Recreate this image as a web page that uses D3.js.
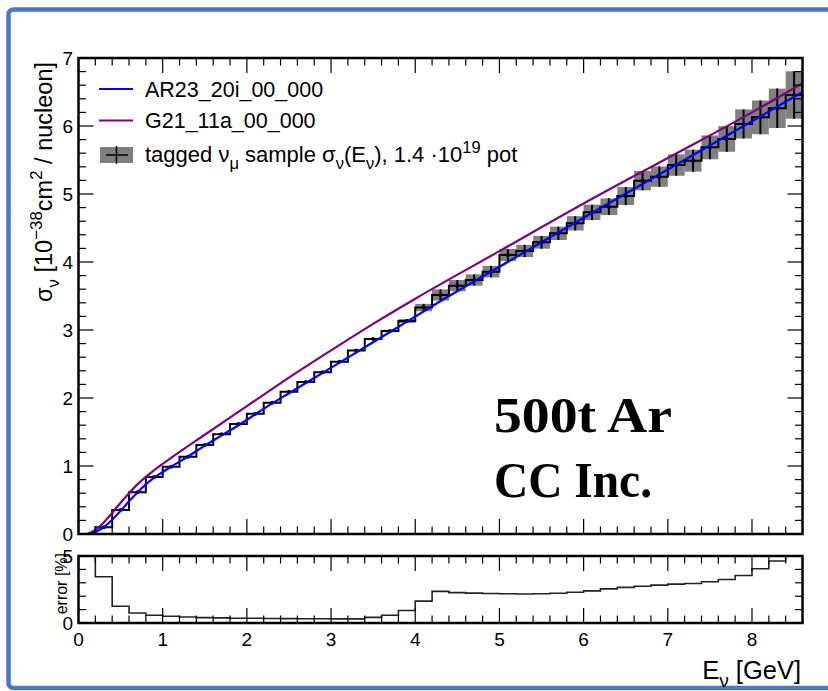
<!DOCTYPE html>
<html>
<head>
<meta charset="utf-8">
<script src="https://cdn.jsdelivr.net/npm/d3@7"></script>
<style>
  body { margin: 0; background: #fff; }
  svg { display: block; }
</style>
</head>
<body>
<svg id="chart" width="828" height="691"></svg>
<script>
// ---- data -------------------------------------------------------------
// lower edges of the 0.2 GeV energy bins
const binLow = [0.2, 0.4, 0.6, 0.8, 1.0, 1.2, 1.4, 1.6, 1.8, 2.0, 2.2, 2.4, 2.6, 2.8,
                3.0, 3.2, 3.4, 3.6, 3.8, 4.0, 4.2, 4.4, 4.6, 4.8, 5.0, 5.2, 5.4, 5.6,
                5.8, 6.0, 6.2, 6.4, 6.6, 6.8, 7.0, 7.2, 7.4, 7.6, 7.8, 8.0, 8.2, 8.4];
const binWidth = 0.2;

// unfolded cross section of the tagged numu sample [1e-38 cm^2 / nucleon]
const sigmaTagged = [0.10, 0.353, 0.613, 0.838, 0.99, 1.137, 1.309, 1.466, 1.618, 1.769,
                     1.93, 2.093, 2.235, 2.378, 2.534, 2.70, 2.868, 2.985, 3.132, 3.33,
                     3.515, 3.652, 3.735, 3.858, 4.103, 4.162, 4.29, 4.422, 4.569, 4.73,
                     4.813, 4.97, 5.196, 5.255, 5.426, 5.49, 5.686, 5.81, 6.03, 6.127,
                     6.26, 6.456];

// relative uncertainty per bin [%]
const errorPct = [3.45, 1.25, 0.75, 0.58, 0.50, 0.45, 0.40, 0.38, 0.36, 0.35,
                  0.34, 0.33, 0.32, 0.32, 0.31, 0.31, 0.42, 0.58, 0.93, 1.63,
                  2.36, 2.27, 2.23, 2.20, 2.18, 2.16, 2.18, 2.22, 2.30, 2.40,
                  2.55, 2.66, 2.74, 2.83, 2.90, 2.95, 3.08, 3.25, 3.55, 4.05,
                  4.63, 5.40];

// generator predictions
const ar23Energy = [0.13, 0.2, 0.3, 0.4, 0.5, 0.6, 0.7, 0.8, 0.9, 1.0, 1.1, 1.3, 1.5, 1.7,
                    1.9, 2.1, 2.3, 2.5, 2.7, 2.9, 3.1, 3.3, 3.7, 4.2, 5.0, 6.0, 7.0, 8.0, 8.6];
const ar23Sigma  = [0.0, 0.03, 0.10, 0.21, 0.34, 0.48, 0.61, 0.73, 0.83, 0.91, 0.99, 1.14, 1.30, 1.45,
                    1.60, 1.76, 1.92, 2.07, 2.22, 2.37, 2.52, 2.67, 2.97, 3.35, 3.93, 4.65, 5.36, 6.07, 6.50];

const g21Energy = [0.10, 0.2, 0.3, 0.4, 0.5, 0.6, 0.7, 0.8, 0.9, 1.0, 1.1, 1.5, 2.0, 2.5,
                   3.0, 3.5, 4.0, 5.0, 6.0, 7.0, 8.0, 8.6];
const g21Sigma  = [0.0, 0.06, 0.17, 0.31, 0.46, 0.60, 0.73, 0.84, 0.94, 1.03, 1.12, 1.46, 1.88, 2.30,
                   2.70, 3.09, 3.46, 4.16, 4.86, 5.53, 6.20, 6.63];

// axis tick labels
const xTickLabels   = [0, 1, 2, 3, 4, 5, 6, 7, 8];
const yTickLabels   = [0, 1, 2, 3, 4, 5, 6, 7];
const errTickLabels = [0, 5];

// legend entries
const legendNames = ["AR23_20i_00_000", "G21_11a_00_000"];
const legendColors = ["#0000ff", "#800080"];

// ---- layout -----------------------------------------------------------
const svg = d3.select("#chart");
const font = "'Liberation Sans', Arial, Helvetica, sans-serif";

const x = d3.scaleLinear().domain([0, 8.6]).range([78.5, 802.5]);
const y = d3.scaleLinear().domain([0, 7]).range([534, 58]);
const yErr = d3.scaleLinear().domain([0, 5]).range([623, 556]);

// outer blue frame
svg.append("rect")
  .attr("x", 8.5).attr("y", 9.5).attr("width", 860).attr("height", 678.5)
  .attr("rx", 5)
  .attr("fill", "none").attr("stroke", "#4a78c8").attr("stroke-width", 4.5);

const defs = svg.append("defs");
defs.append("clipPath").attr("id", "clipMain").append("rect")
  .attr("x", x(0)).attr("y", y(7)).attr("width", x(8.6) - x(0)).attr("height", y(0) - y(7));
defs.append("clipPath").attr("id", "clipErr").append("rect")
  .attr("x", x(0)).attr("y", yErr(5)).attr("width", x(8.6) - x(0)).attr("height", yErr(0) - yErr(5));

// ---- helpers ----------------------------------------------------------
function richText(sel, parts, baseSize, scriptScale) {
  const k = scriptScale || 0.72;
  let offset = 0;
  parts.forEach(p => {
    const ts = sel.append("tspan").text(p.t);
    let target = 0;
    if (p.s === "sub") { ts.attr("font-size", baseSize * k); target = baseSize * 0.3; }
    else if (p.s === "sup") { ts.attr("font-size", baseSize * k); target = -baseSize * 0.42; }
    else ts.attr("font-size", baseSize);
    ts.attr("dy", target - offset);
    offset = target;
  });
}

const isMajor = d => Math.abs(d - Math.round(d)) < 1e-6;

function xTicks(g, yScale, top, bottom) {
  const minor = d3.range(0, 8.61, 0.2);
  g.selectAll(null).data(minor).enter().append("line")
    .attr("x1", d => x(d)).attr("x2", d => x(d))
    .attr("y1", yScale(bottom)).attr("y2", d => yScale(bottom) - (isMajor(d) ? 15 : 7.5))
    .attr("stroke", "#000").attr("stroke-width", 1.2);
  g.selectAll(null).data(minor).enter().append("line")
    .attr("x1", d => x(d)).attr("x2", d => x(d))
    .attr("y1", yScale(top)).attr("y2", d => yScale(top) + (isMajor(d) ? 15 : 7.5))
    .attr("stroke", "#000").attr("stroke-width", 1.2);
}

function yTicks(g, yScale, values, majorTest) {
  g.selectAll(null).data(values).enter().append("line")
    .attr("x1", x(0)).attr("x2", d => x(0) + (majorTest(d) ? 15 : 7.5))
    .attr("y1", d => yScale(d)).attr("y2", d => yScale(d))
    .attr("stroke", "#000").attr("stroke-width", 1.2);
  g.selectAll(null).data(values).enter().append("line")
    .attr("x1", x(8.6)).attr("x2", d => x(8.6) - (majorTest(d) ? 15 : 7.5))
    .attr("y1", d => yScale(d)).attr("y2", d => yScale(d))
    .attr("stroke", "#000").attr("stroke-width", 1.2);
}

const bins = binLow.map((lo, i) => ({
  lo: lo, hi: lo + binWidth, mid: lo + binWidth / 2,
  v: sigmaTagged[i], err: errorPct[i], abs: sigmaTagged[i] * errorPct[i] / 100
}));

// ---- main panel -------------------------------------------------------
const main = svg.append("g").attr("clip-path", "url(#clipMain)");

// uncertainty boxes
main.selectAll("rect.band").data(bins).enter().append("rect")
  .attr("class", "band")
  .attr("x", d => x(d.lo)).attr("width", d => x(d.hi) - x(d.lo))
  .attr("y", d => y(d.v + d.abs)).attr("height", d => y(d.v - d.abs) - y(d.v + d.abs))
  .attr("fill", "#808080");

// histogram outline
const stepPts = [[bins[0].lo, 0]];
bins.forEach(d => { stepPts.push([d.lo, d.v]); stepPts.push([d.hi, d.v]); });
main.append("path")
  .attr("d", d3.line().x(d => x(d[0])).y(d => y(d[1]))(stepPts))
  .attr("fill", "none").attr("stroke", "#000").attr("stroke-width", 2);

// error bars and markers
main.selectAll("line.eb").data(bins).enter().append("line")
  .attr("x1", d => x(d.mid)).attr("x2", d => x(d.mid))
  .attr("y1", d => y(d.v - d.abs)).attr("y2", d => y(d.v + d.abs))
  .attr("stroke", "#000").attr("stroke-width", 2);
main.selectAll("circle.pt").data(bins).enter().append("circle")
  .attr("cx", d => x(d.mid)).attr("cy", d => y(d.v)).attr("r", 2)
  .attr("fill", "#000");

// model curves
const curve = d3.line().x(d => x(d[0])).y(d => y(d[1])).curve(d3.curveMonotoneX);
main.append("path")
  .attr("d", curve(g21Energy.map((e, i) => [e, g21Sigma[i]])))
  .attr("fill", "none").attr("stroke", legendColors[1]).attr("stroke-width", 2.2);
main.append("path")
  .attr("d", curve(ar23Energy.map((e, i) => [e, ar23Sigma[i]])))
  .attr("fill", "none").attr("stroke", legendColors[0]).attr("stroke-width", 2.2);

// ticks and frame
const mainAxes = svg.append("g");
xTicks(mainAxes, y, 7, 0);
yTicks(mainAxes, y, d3.range(0, 7.01, 0.2), isMajor);
mainAxes.append("rect")
  .attr("x", x(0)).attr("y", y(7)).attr("width", x(8.6) - x(0)).attr("height", y(0) - y(7))
  .attr("fill", "none").attr("stroke", "#000").attr("stroke-width", 2.5);

mainAxes.selectAll("text.yl").data(yTickLabels).enter().append("text")
  .attr("x", 73).attr("y", d => y(d) + 7)
  .attr("text-anchor", "end").attr("font-family", font).attr("font-size", 19)
  .text(d => d);

// y axis title
const yTitle = svg.append("text")
  .attr("transform", "translate(52,62) rotate(-90)")
  .attr("text-anchor", "end").attr("font-family", font);
richText(yTitle, [
  { t: "σ" }, { t: "ν", s: "sub" }, { t: " [10" }, { t: "−38", s: "sup" },
  { t: "cm" }, { t: "2", s: "sup" }, { t: " / nucleon]" }
], 23.5);

// legend
const leg = svg.append("g");
legendNames.forEach((name, i) => {
  const ly = 89 + i * 31.5;
  leg.append("line").attr("x1", 99).attr("x2", 133).attr("y1", ly).attr("y2", ly)
    .attr("stroke", legendColors[i]).attr("stroke-width", 2);
  leg.append("text").attr("x", 145).attr("y", ly + 7.5)
    .attr("font-family", font).attr("font-size", 21.5).text(name);
});
leg.append("rect").attr("x", 100).attr("y", 147).attr("width", 33).attr("height", 16)
  .attr("fill", "#808080");
leg.append("line").attr("x1", 106).attr("x2", 128).attr("y1", 155).attr("y2", 155)
  .attr("stroke", "#000").attr("stroke-width", 1.5);
leg.append("line").attr("x1", 116.5).attr("x2", 116.5).attr("y1", 146).attr("y2", 164)
  .attr("stroke", "#000").attr("stroke-width", 1.5);
const legText = leg.append("text").attr("x", 145).attr("y", 162).attr("font-family", font);
richText(legText, [
  { t: "tagged ν" }, { t: "μ", s: "sub" }, { t: " sample σ" }, { t: "ν", s: "sub" },
  { t: "(E" }, { t: "ν", s: "sub" }, { t: "), 1.4 ·10" }, { t: "19", s: "sup" }, { t: " pot" }
], 22, 0.75);

// sample label
const label = svg.append("g").attr("font-family", "'Liberation Serif', 'DejaVu Serif', serif")
  .attr("font-weight", "bold").attr("font-size", 51).attr("fill", "#000");
label.append("text").attr("x", 494).attr("y", 432)
  .attr("textLength", 178).attr("lengthAdjust", "spacingAndGlyphs").text("500t Ar");
label.append("text").attr("x", 494).attr("y", 497)
  .attr("textLength", 158).attr("lengthAdjust", "spacingAndGlyphs").text("CC Inc.");

// ---- error panel ------------------------------------------------------
const errG = svg.append("g").attr("clip-path", "url(#clipErr)");
const errPts = [[bins[0].lo, yErr.domain()[1]]];
bins.forEach(d => { errPts.push([d.lo, d.err]); errPts.push([d.hi, d.err]); });
errG.append("path")
  .attr("d", d3.line().x(d => x(d[0])).y(d => yErr(d[1]))(errPts))
  .attr("fill", "none").attr("stroke", "#222").attr("stroke-width", 1.6);

const errAxes = svg.append("g");
xTicks(errAxes, yErr, 5, 0);
yTicks(errAxes, yErr, [1, 2, 3, 4], () => false);
errAxes.append("rect")
  .attr("x", x(0)).attr("y", yErr(5)).attr("width", x(8.6) - x(0)).attr("height", yErr(0) - yErr(5))
  .attr("fill", "none").attr("stroke", "#000").attr("stroke-width", 2.5);

errAxes.selectAll("text.el").data(errTickLabels).enter().append("text")
  .attr("x", 73).attr("y", d => yErr(d) + 7)
  .attr("text-anchor", "end").attr("font-family", font).attr("font-size", 19)
  .text(d => d);

errAxes.selectAll("text.xl").data(xTickLabels).enter().append("text")
  .attr("x", d => x(d)).attr("y", 646)
  .attr("text-anchor", "middle").attr("font-family", font).attr("font-size", 19)
  .text(d => d);

svg.append("text")
  .attr("transform", "translate(67,553) rotate(-90)")
  .attr("text-anchor", "end").attr("font-family", font).attr("font-size", 16)
  .text("error [%]");

const xTitle = svg.append("text")
  .attr("x", 801).attr("y", 679).attr("text-anchor", "end").attr("font-family", font);
richText(xTitle, [{ t: "E" }, { t: "ν", s: "sub" }, { t: " [GeV]" }], 25.5, 0.75);
</script>
</body>
</html>
